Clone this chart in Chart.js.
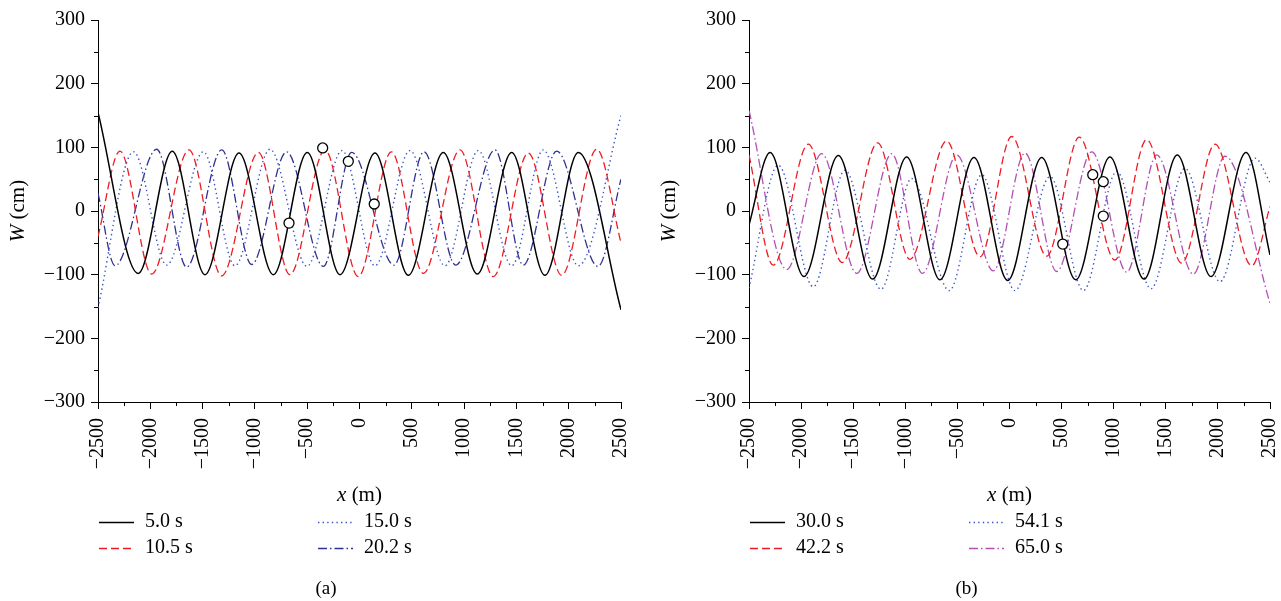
<!DOCTYPE html>
<html><head><meta charset="utf-8">
<script src="https://cdn.jsdelivr.net/npm/chart.js@4.4.0/dist/chart.umd.min.js"></script>
<style>
html,body{margin:0;padding:0;background:#fff;}
#wrap{position:relative;width:1281px;height:601px;overflow:hidden;background:#fff;}
canvas{position:absolute;top:0;}
</style></head><body>
<div id="wrap">
<canvas id="ca" width="640" height="601" style="left:0;width:640px;height:601px"></canvas>
<canvas id="cb" width="641" height="601" style="left:640px;width:641px;height:601px"></canvas>
</div>
<script>
// ---------- data ----------
const xTicks = [-2500, -2000, -1500, -1000, -500, 0, 500, 1000, 1500, 2000, 2500];
const yTicks = [-300, -200, -100, 0, 100, 200, 300];

// panel (a)
const aLabels = ['5.0 s', '10.5 s', '15.0 s', '20.2 s'];
const a_5_0 = [[-2500,155],[-2115,-98],[-1790,94],[-1477,-100],[-1152,91],[-824,-100],[-499,92],[-186,-100],[148,91],[467,-101],[801,92],[1126,-99],[1455,92],[1773,-101],[2092,92],[2500,-155]];
const a_10_5 = [[-2500,-40],[-2290,94],[-1987,-99],[-1630,96],[-1318,-102],[-967,92],[-665,-100],[-330,96],[-12,-103],[305,93],[610,-98],[961,96],[1279,-103],[1614,91],[1933,-101],[2268,97],[2500,-50]];
const a_15_0 = [[-2500,-152],[-2160,93],[-1843,-85],[-1493,93],[-1190,-86],[-856,97],[-502,-87],[-167,95],[148,-86],[483,95],[817,-86],[1136,95],[1455,-86],[1757,96],[2092,-86],[2500,150]];
const a_20_2 = [[-2500,28],[-2337,-86],[-1939,97],[-1652,-88],[-1317,96],[-1031,-84],[-697,93],[-346,-87],[-75,92],[330,-85],[617,93],[920,-85],[1295,96],[1566,-85],[1885,94],[2280,-87],[2500,50]];
const aCircles = [[-674,-19],[-352,99],[-107,78],[141,11]];

// panel (b)
const bLabels = ['30.0 s', '42.2 s', '54.1 s', '65.0 s'];
const b_30_0 = [[-2500,-22],[-2298,92],[-1972,-103],[-1643,87],[-1313,-107],[-987,85],[-667,-108],[-341,84],[-17,-109],[309,84],[635,-108],[964,85],[1291,-107],[1610,88],[1934,-103],[2270,92],[2500,-69]];
const b_42_2 = [[-2500,88],[-2267,-85],[-1931,105],[-1605,-81],[-1265,107],[-955,-76],[-603,110],[-283,-72],[21,117],[357,-71],[670,116],[1012,-77],[1317,112],[1653,-82],[1972,105],[2324,-86],[2500,7]];
const b_54_1 = [[-2500,-121],[-2219,72],[-1883,-119],[-1579,64],[-1233,-123],[-939,51],[-578,-125],[-267,57],[53,-125],[389,54],[709,-125],[1029,62],[1358,-122],[1684,67],[2020,-111],[2356,83],[2500,45]];
const b_65_0 = [[-2500,158],[-2138,-92],[-1802,90],[-1466,-98],[-1130,90],[-836,-98],[-507,88],[-155,-94],[149,91],[453,-95],[790,93],[1125,-96],[1413,88],[1764,-99],[2068,86],[2500,-145]];
const bCircles = [[511,-52],[799,57],[900,46],[900,-8]];

// ---------- styles ----------
const FONT = '"Liberation Serif", "Times New Roman", serif';
const stylesA = [
  {color:'#000000', dash:[], width:1.5},
  {color:'#ed1c24', dash:[8,4], width:1.3},
  {color:'#3a54c8', dash:[1.4,3.2], width:1.4},
  {color:'#2e3192', dash:[9,3,1.5,3], width:1.3}
];
const stylesB = [
  {color:'#000000', dash:[], width:1.5},
  {color:'#ed1c24', dash:[8,4], width:1.3},
  {color:'#3a54c8', dash:[1.4,3.2], width:1.4},
  {color:'#b24fb4', dash:[9,3,1.5,3], width:1.3}
];

function fmt(v){ return v < 0 ? '\u2212' + Math.abs(v) : String(v); }
const toXY = arr => arr.map(p => ({x:p[0], y:p[1]}));

const decor = {
  id: 'decor',
  afterDraw(chart, args, opts) {
    const ctx = chart.ctx, ca = chart.chartArea;
    const xs = chart.scales.x, ys = chart.scales.y;
    ctx.save();
    ctx.strokeStyle = '#000'; ctx.lineWidth = 1;
    ctx.beginPath();
    for (let v = yTicks[0]; v <= yTicks[yTicks.length-1]; v += 50) {
      if (v % 100 === 0) continue;
      const py = Math.round(ys.getPixelForValue(v)) + 0.5;
      ctx.moveTo(ca.left - 4, py); ctx.lineTo(ca.left, py);
    }
    for (let v = xTicks[0]; v <= xTicks[xTicks.length-1]; v += 250) {
      if (v % 500 === 0) continue;
      const px = Math.round(xs.getPixelForValue(v)) + 0.5;
      ctx.moveTo(px, ca.bottom); ctx.lineTo(px, ca.bottom + 4);
    }
    ctx.stroke();
    ctx.fillStyle = '#000';
    ctx.textBaseline = 'middle';
    function drawParts(parts, cx, cy) {
      let total = 0;
      parts.forEach(p => { ctx.font = p.font; p.w = ctx.measureText(p.t).width; total += p.w; });
      let x = cx - total/2;
      ctx.textAlign = 'left';
      parts.forEach(p => { ctx.font = p.font; ctx.fillText(p.t, x, cy); x += p.w; });
    }
    ctx.save();
    ctx.translate(ca.left - 80, (ca.top + ca.bottom)/2);
    ctx.rotate(-Math.PI/2);
    drawParts([{t:'W', font:'italic 21px ' + FONT}, {t:' (cm)', font:'21px ' + FONT}], 0, 0);
    ctx.restore();
    drawParts([{t:'x', font:'italic 21px ' + FONT}, {t:' (m)', font:'21px ' + FONT}], (ca.left + ca.right)/2, ca.bottom + 93);
    const ds = chart.data.datasets.filter(d => d.isSeries);
    const cols = [ca.left, ca.left + 219];
    const rows = [ca.bottom + 120, ca.bottom + 146];
    ds.forEach((d, i) => {
      const col = Math.floor(i / 2), row = i % 2;
      const x0 = cols[col], y0 = Math.round(rows[row]) + 0.5;
      ctx.save();
      ctx.strokeStyle = d.borderColor; ctx.lineWidth = d.borderWidth;
      ctx.setLineDash(d.borderDash);
      ctx.beginPath(); ctx.moveTo(x0 + 1, y0); ctx.lineTo(x0 + 36, y0); ctx.stroke();
      ctx.restore();
      ctx.font = '20px ' + FONT; ctx.textAlign = 'left'; ctx.fillStyle = '#000';
      ctx.fillText(d.label, x0 + 47, rows[row]);
    });
    ctx.font = '19px ' + FONT; ctx.textAlign = 'center';
    ctx.fillText(opts.caption, chart.width/2 + 6, ca.bottom + 187);
    ctx.restore();
  }
};

function makeChart(id, seriesList, labels, styles, circles, caption, yWidth, padRight) {
  const datasets = [{
    label: 'markers', data: toXY(circles), showLine: false,
    pointRadius: 5, pointHoverRadius: 5, pointBackgroundColor: '#ffffff',
    pointBorderColor: '#000000', pointBorderWidth: 1.3, borderColor: '#000'
  }];
  seriesList.forEach((s, i) => {
    datasets.push({
      label: labels[i], isSeries: true, data: toXY(s),
      borderColor: styles[i].color, borderDash: styles[i].dash, borderWidth: styles[i].width,
      pointRadius: 0, fill: false, cubicInterpolationMode: 'monotone'
    });
  });
  return new Chart(document.getElementById(id), {
    type: 'line',
    data: { datasets },
    options: {
      responsive: false, animation: false, devicePixelRatio: 1,
      layout: { padding: { left: 0, top: 20, right: padRight, bottom: 89 } },
      plugins: { legend: { display: false }, tooltip: { enabled: false }, decor: { caption } },
      scales: {
        x: {
          type: 'linear', min: xTicks[0], max: xTicks[xTicks.length-1],
          afterBuildTicks: sc => { sc.ticks = xTicks.map(v => ({value: v})); },
          afterFit: sc => { sc.height = 110; sc.paddingLeft = 0; sc.paddingRight = 0; },
          grid: { drawOnChartArea: false, drawTicks: true, tickLength: 7, tickColor: '#000', tickWidth: 1 },
          border: { display: true, color: '#000', width: 1 },
          ticks: { autoSkip: false, minRotation: 90, maxRotation: 90, padding: 9, color: '#000',
                   font: { family: FONT, size: 20 }, callback: v => fmt(v) }
        },
        y: {
          type: 'linear', min: yTicks[0], max: yTicks[yTicks.length-1],
          afterBuildTicks: sc => { sc.ticks = yTicks.map(v => ({value: v})); },
          afterFit: sc => { sc.width = yWidth; sc.paddingTop = 0; sc.paddingBottom = 0; },
          grid: { drawOnChartArea: false, drawTicks: true, tickLength: 7, tickColor: '#000', tickWidth: 1 },
          border: { display: true, color: '#000', width: 1 },
          ticks: { padding: 6, color: '#000', font: { family: FONT, size: 20 }, callback: v => fmt(v) }
        }
      }
    },
    plugins: [decor]
  });
}

makeChart('ca', [a_5_0, a_10_5, a_15_0, a_20_2], aLabels, stylesA, aCircles, '(a)', 98, 19);
makeChart('cb', [b_30_0, b_42_2, b_54_1, b_65_0], bLabels, stylesB, bCircles, '(b)', 109, 11);
</script>
</body></html>
